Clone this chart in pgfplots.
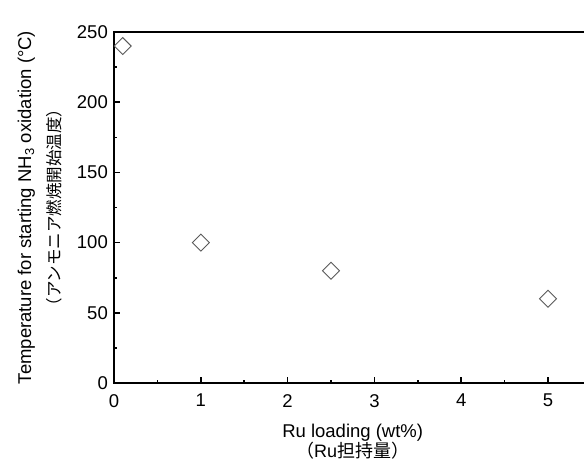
\documentclass[border=0pt]{standalone}
\usepackage{fontspec}
\setmainfont{Liberation Sans}
\newfontfamily\jp{Noto Sans CJK JP}
\usepackage{pgfplots}
\pgfplotsset{compat=1.18}
\begin{document}
\fontsize{18}{21}\selectfont
\begin{tikzpicture}
\begin{axis}[
 at={(0,0)}, anchor=south west, scale only axis,
 width=477.4pt, height=351pt,
 xmin=0, xmax=5.5, ymin=0, ymax=250,
 xtick={0,1,2,3,4,5}, ytick={0,50,100,150,200,250},
 minor x tick num=1, minor y tick num=1,
 tick pos=left, tick align=inside,
 major tick length=6pt, minor tick length=3.5pt,
 axis line style={line width=2.1pt},
 every tick/.style={line width=1.6pt, black},
 /pgf/number format/assume math mode=true,
 ticklabel style={font=\fontsize{18.5}{21}\selectfont},
 xticklabel shift=5pt,
 xlabel shift=5pt,
 ylabel shift=3pt,
 xlabel={Ru loading (wt\%)\\[-1pt]{\fontsize{18}{18}\selectfont{\jp （}Ru{\jp 担持量）}}},
 xlabel style={align=center, font=\fontsize{18.5}{21}\selectfont},
 ylabel={Temperature for starting NH\textsubscript{3} oxidation (°C)\\[8pt]{\jp\fontsize{16.5}{18}\selectfont （アンモニア燃焼開始温度）}},
 ylabel style={align=center, font=\fontsize{18.5}{21}\selectfont},
 clip=false,
]
\addplot[only marks, mark=square, mark size=6pt,
  mark options={rotate=45, draw=black!65, fill=white, line width=0.9pt}]
  coordinates {(0.1,240)(1,100)(2.5,80)(5,60)};
\end{axis}
\pgfresetboundingbox
\useasboundingbox (-114pt,-81pt) rectangle (470pt,383pt);
\end{tikzpicture}
\end{document}
